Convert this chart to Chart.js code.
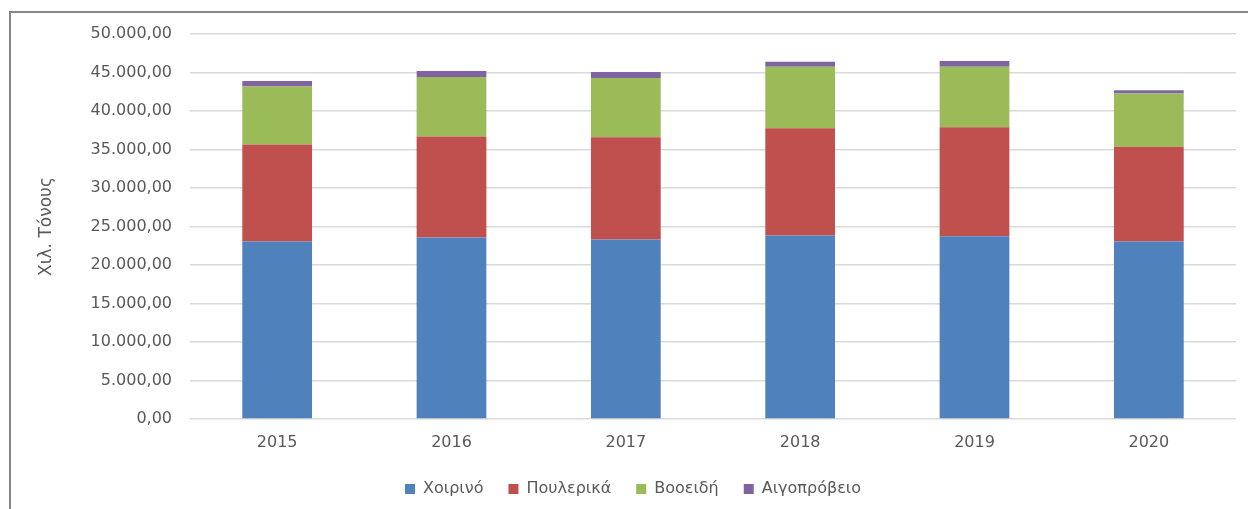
<!DOCTYPE html>
<html>
<head>
<meta charset="utf-8">
<script src="https://cdn.jsdelivr.net/npm/chart.js@4/dist/chart.umd.min.js"></script>
<style>
  html, body { margin: 0; padding: 0; background: #fff; }
  #wrap { width: 1248px; height: 509px; position: relative; }
</style>
</head>
<body>
<div id="wrap"><canvas id="chart" width="1248" height="509"></canvas></div>
<script>
// categories + series (Χιλ. Τόνους)
const years = ['2015', '2016', '2017', '2018', '2019', '2020'];
const seriesNames = ['Χοιρινό', 'Πουλερικά', 'Βοοειδή', 'Αιγοπρόβειο'];
const pork    = [23050, 23570, 23310, 23830, 23740, 23050];
const poultry = [12590, 13110, 13280, 13930, 14150, 12320];
const beef    = [7550, 7720, 7680, 7980, 7850, 6900];
const goat    = [690, 780, 780, 650, 740, 440];
const colors  = ['#4f81bd', '#c0504d', '#9bbb59', '#8064a2'];
const yMax = 50000, yStep = 5000;

const textColor = '#595959';
const font = 'DejaVu Sans';

// 50000 -> "50.000,00"
function fmtGR(v){
  const [i, d] = Math.abs(v).toFixed(2).split('.');
  return i.replace(/\B(?=(\d{3})+(?!\d))/g, '.') + ',' + d;
}

// grey frame on the left / top like the original export
const framePlugin = {
  id: 'frame',
  afterDraw(chart){
    const c = chart.ctx;
    c.save();
    c.strokeStyle = '#868686';
    c.lineWidth = 2;
    c.beginPath();
    c.moveTo(10, 509);
    c.lineTo(10, 12);
    c.lineTo(1248, 12);
    c.stroke();
    c.restore();
  }
};

const data = [pork, poultry, beef, goat];

new Chart(document.getElementById('chart'), {
  type: 'bar',
  data: {
    labels: years,
    datasets: seriesNames.map((n, i) => ({
      label: n,
      data: data[i],
      backgroundColor: colors[i],
      borderWidth: 0,
      barPercentage: 0.4,
      categoryPercentage: 1.0
    }))
  },
  plugins: [framePlugin],
  options: {
    responsive: false,
    animation: false,
    layout: { padding: { left: 30, right: 12, top: 34, bottom: 2 } },
    plugins: {
      tooltip: { enabled: false },
      legend: {
        position: 'bottom',
        labels: {
          boxWidth: 10, boxHeight: 10, padding: 25,
          color: textColor,
          font: { family: font, size: 16 }
        }
      }
    },
    scales: {
      x: {
        stacked: true,
        grid: { display: false },
        border: { display: false },
        ticks: { color: textColor, padding: 6, font: { family: font, size: 16 } },
        afterFit(s){ s.height = 37; }
      },
      y: {
        stacked: true,
        min: 0, max: yMax,
        grid: { color: '#d9d9d9', lineWidth: 1.5, drawTicks: false },
        border: { display: false },
        ticks: {
          stepSize: yStep, padding: 18, color: textColor,
          font: { family: font, size: 16 },
          callback: v => fmtGR(v)
        },
        title: {
          display: true, text: 'Χιλ. Τόνους', color: textColor,
          font: { family: font, size: 17 },
          padding: { top: 6, bottom: 0 }
        },
        afterFit(s){ s.width = 160; }
      }
    }
  }
});
</script>
</body>
</html>
